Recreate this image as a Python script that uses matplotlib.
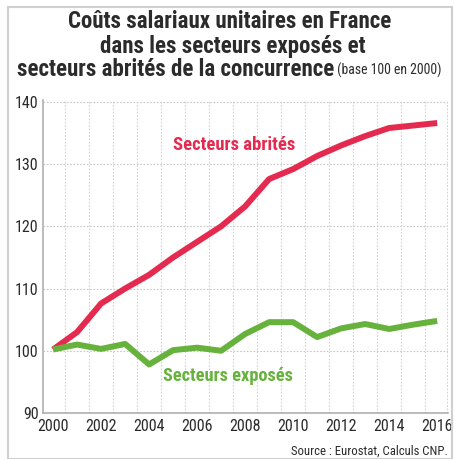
import matplotlib
matplotlib.use("Agg")
import matplotlib.pyplot as plt
from matplotlib.patches import Rectangle
from matplotlib import font_manager

years = list(range(2000, 2017))
abrites = [100.2, 103.0, 107.6, 110.0, 112.2, 115.0, 117.5, 120.0, 123.2,
           127.6, 129.2, 131.3, 133.0, 134.5, 135.8, 136.2, 136.6]
exposes = [100.2, 101.0, 100.3, 101.1, 97.8, 100.1, 100.5, 100.0, 102.7,
           104.6, 104.6, 102.2, 103.6, 104.3, 103.5, 104.2, 104.8]
xticks = [2000, 2002, 2004, 2006, 2008, 2010, 2012, 2014, 2016]
yticks = [90, 100, 110, 120, 130, 140]

names = {f.name for f in font_manager.fontManager.ttflist}
cands = ["Liberation Sans Narrow", "Roboto Condensed", "Open Sans Condensed",
         "Noto Sans Condensed", "Arial Narrow", "Liberation Sans"]
MAIN = next((c for c in cands if c in names), "DejaVu Sans")
plt.rcParams["font.family"] = [MAIN, "DejaVu Sans"]
RED = "#e42a4e"
GREEN = "#66b23c"
TXT = "#2b2b2b"

fig = plt.figure(figsize=(4.54, 4.59), dpi=100)
W, H = 454, 459

fig.patches.append(Rectangle((8 / W, 0), (452 - 8) / W, (H - 7) / H,
                             transform=fig.transFigure, fill=False,
                             edgecolor="#cfcfcf", linewidth=1.5))

ax = fig.add_axes([43 / W, 1 - 413 / H, (448 - 43) / W, (413 - 100) / H])
ax.plot(years, abrites, color=RED, lw=4.3, solid_capstyle="butt", zorder=3)
ax.plot(years, exposes, color=GREEN, lw=4.3, solid_capstyle="butt", zorder=3)

ax.set_xlim(1999.58, 2016.45)
ax.set_ylim(90, 140.3)
ax.set_xticks(xticks)
ax.set_yticks(yticks)
for v in [100, 110, 120, 130, 140]:
    ax.axhline(v, color="#c8c8c8", lw=0.8, ls=(0, (1.5, 1.5)), zorder=1)
for v in [y + 0.5 for y in range(2000, 2016)] + [2016.42]:
    ax.axvline(v, color="#d2d2d2", lw=0.8, ls=(0, (1.5, 1.5)), zorder=1)

for s in ["top", "right"]:
    ax.spines[s].set_visible(False)
for s in ["left", "bottom"]:
    ax.spines[s].set_color("#b0b0b0")
    ax.spines[s].set_linewidth(1.2)
ax.tick_params(axis="both", which="both", length=0, labelsize=11.5,
               labelcolor=TXT)
ax.tick_params(axis="y", pad=3)
ax.tick_params(axis="x", pad=4)

fig.canvas.draw()
r = fig.canvas.get_renderer()


def fit(t, target):
    w = t.get_window_extent(r).width
    t.set_fontsize(t.get_fontsize() * target / w)


la = ax.text(2007.55, 133.0, "Secteurs abrités", color=RED, fontsize=12.5,
             fontweight="bold", ha="center", va="center")
fit(la, 122)
le = ax.text(2007.3, 95.9, "Secteurs exposés", color=GREEN, fontsize=12.5,
             fontweight="bold", ha="center", va="center")
fit(le, 130)

l1 = fig.text(230 / W, 1 - 22 / H, "Coûts salariaux unitaires en France",
              ha="center", va="center", fontsize=14, fontweight="bold", color=TXT)
fit(l1, 325)
TS = l1.get_fontsize()
l2 = fig.text(244 / W, 1 - 46 / H, "dans les secteurs exposés et",
              ha="center", va="center", fontsize=TS, fontweight="bold", color=TXT)

t1 = fig.text(11 / W, 1 - 70 / H, "secteurs abrités de la concurrence",
              ha="left", va="center", fontsize=TS, fontweight="bold", color=TXT)
t2 = fig.text(0, 1 - 70 / H, " (base 100 en 2000)",
              ha="left", va="center", fontsize=11, color=TXT)
fit(t2, 108)
fig.canvas.draw()
w1 = t1.get_window_extent(r).width
w2 = t2.get_window_extent(r).width
w2l = l2.get_window_extent(r).width
l2.set_x((100 + w2l / 2) / W)
start = 229 - (w1 + w2) / 2
t1.set_x(start / W)
t2.set_x((start + w1) / W)

src = fig.text(448 / W, 1 - 451 / H, "Source : Eurostat, Calculs CNP.",
               ha="right", va="center", fontsize=9.5, color=TXT)
fit(src, 157)

fig.savefig("out.png", dpi=100)
